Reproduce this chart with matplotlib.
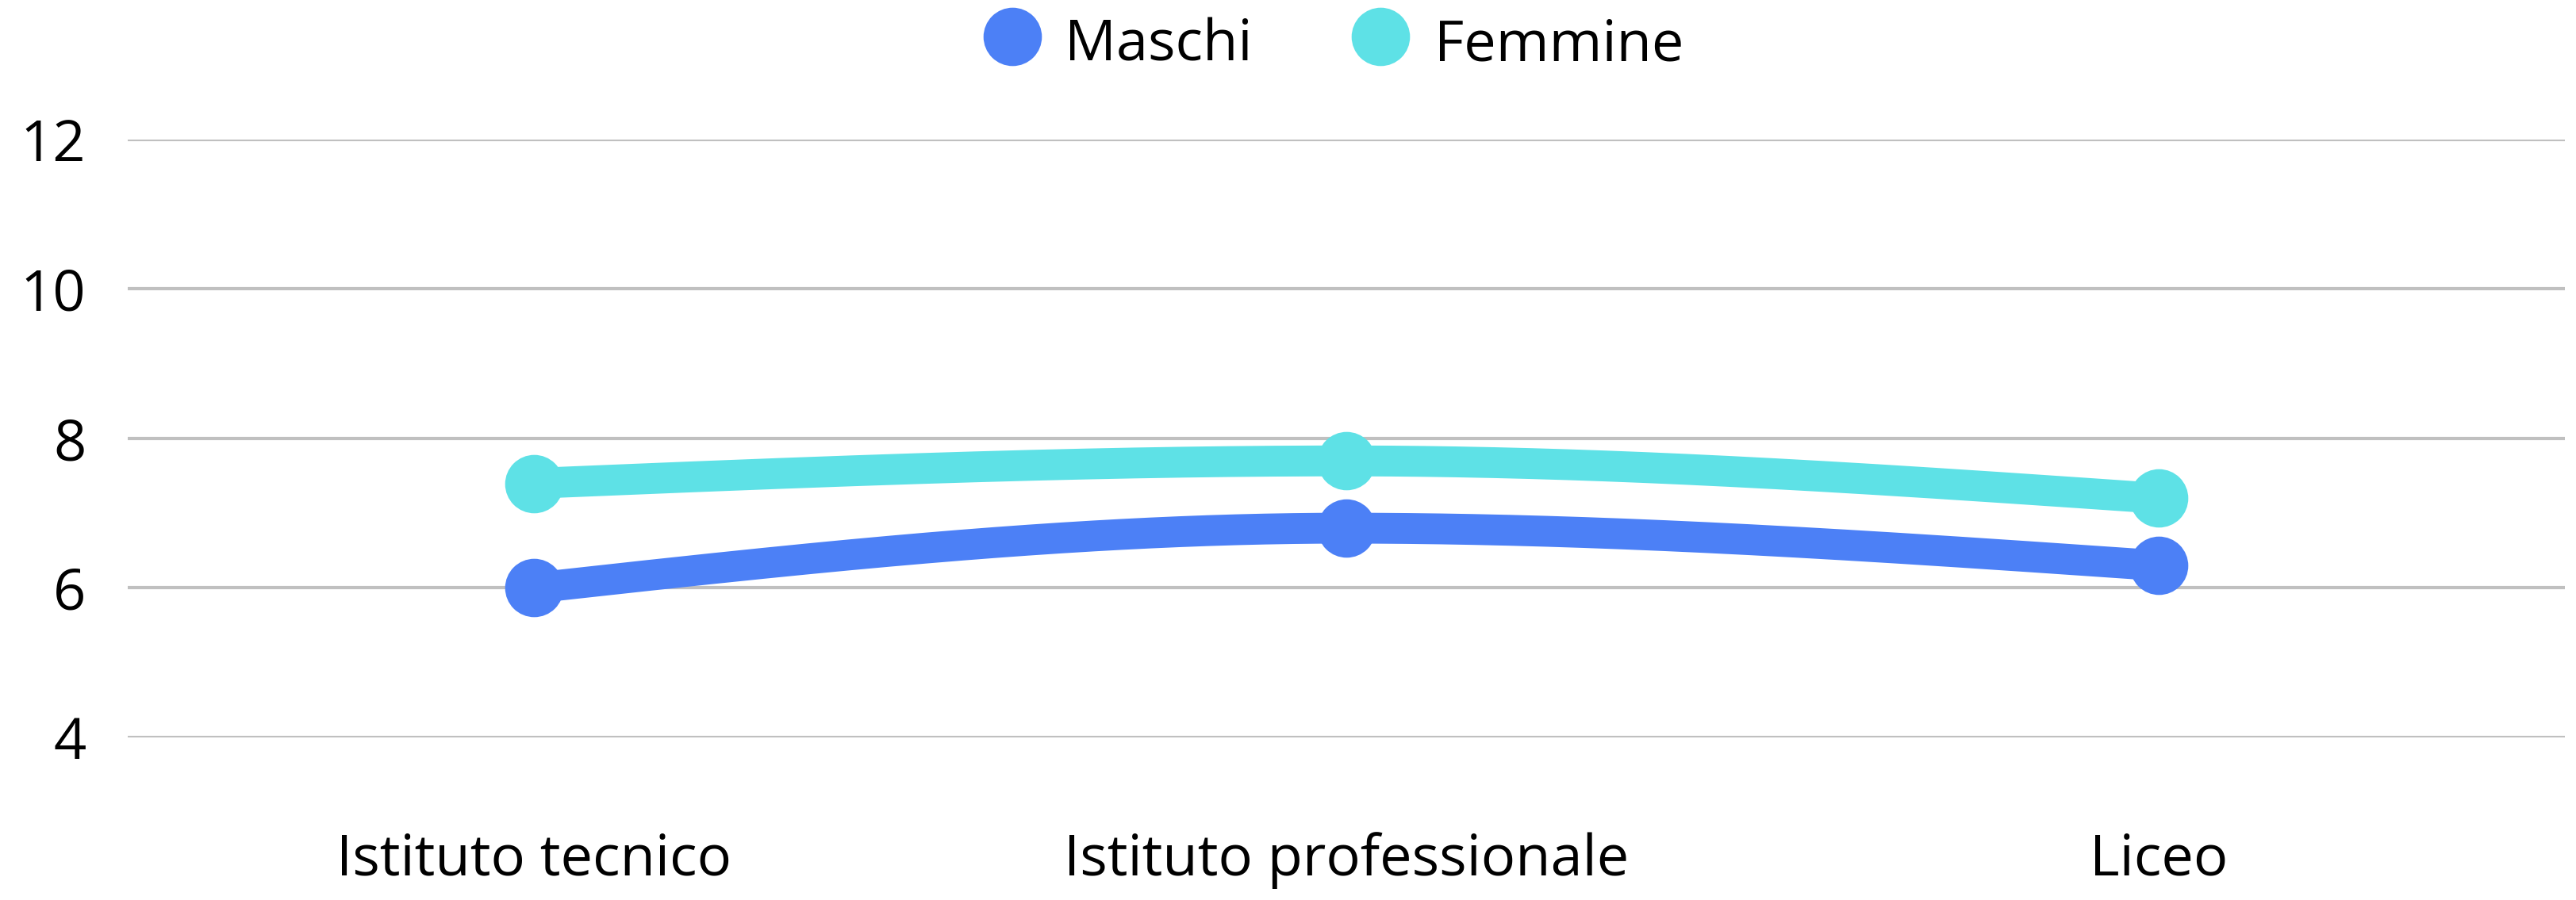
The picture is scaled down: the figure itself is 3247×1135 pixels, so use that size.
import numpy as np
import matplotlib
matplotlib.use("Agg")
import matplotlib.pyplot as plt
from matplotlib.lines import Line2D

categories = ["Istituto tecnico", "Istituto professionale", "Liceo"]
maschi = [6.0, 6.8, 6.3]
femmine = [7.4, 7.7, 7.2]
yticks = [4, 6, 8, 10, 12]
series_names = ["Maschi", "Femmine"]
colors = ["#4C80F6", "#5EE1E6"]

plt.rcParams['font.family'] = ['Open Sans', 'DejaVu Sans']


def monotone_curve(x, y, n=200):
    x = np.asarray(x, float)
    y = np.asarray(y, float)
    h = np.diff(x)
    d = np.diff(y) / h
    m = np.zeros_like(y)
    for i in range(1, len(y) - 1):
        if d[i - 1] * d[i] <= 0:
            m[i] = 0.0
        else:
            m[i] = (3 * (h[i - 1] + h[i])) / ((2 * h[i] + h[i - 1]) / d[i - 1] + (h[i] + 2 * h[i - 1]) / d[i])
    m[0] = (3 * d[0] - m[1]) / 2 if len(y) > 2 else d[0]
    m[-1] = (3 * d[-1] - m[-2]) / 2 if len(y) > 2 else d[-1]
    xs, ys = [], []
    for i in range(len(h)):
        t = np.linspace(0, 1, n)
        h00 = 2 * t**3 - 3 * t**2 + 1
        h10 = t**3 - 2 * t**2 + t
        h01 = -2 * t**3 + 3 * t**2
        h11 = t**3 - t**2
        xs.append(x[i] + t * h[i])
        ys.append(h00 * y[i] + h10 * h[i] * m[i] + h01 * y[i + 1] + h11 * h[i] * m[i + 1])
    return np.concatenate(xs), np.concatenate(ys)


fig = plt.figure(figsize=(32.47, 11.35), dpi=100)
ax = fig.add_axes([0.0496, 0.1806, 0.9461, 0.6644])

x = np.arange(len(categories))
for vals, c in zip([maschi, femmine], colors):
    cx, cy = monotone_curve(x, vals)
    ax.plot(cx, cy, color=c, lw=28, solid_capstyle='butt', zorder=3, clip_on=False)
    ax.plot(x, vals, 'o', color=c, markersize=53, markeredgewidth=0, zorder=4, clip_on=False)

ax.set_xlim(-0.5, 2.5)
ax.set_ylim(4, 12)
ax.set_yticks(yticks)
ax.set_yticklabels([str(v) for v in yticks])
ax.set_xticks(x)
ax.set_xticklabels(categories)
ax.grid(axis='y', color='#C0C0C0', lw=3, zorder=1)
ax.set_axisbelow(True)
for s in ax.spines.values():
    s.set_visible(False)
ax.tick_params(axis='both', length=0, labelsize=52, colors='#000000')
ax.tick_params(axis='x', pad=86)
ax.tick_params(axis='y', pad=38)

# legend drawn in figure coordinates
leg_marker_x = [0.3930, 0.5358]
leg_text_x = [0.4133, 0.5568]
leg_y = 0.9595
for name, c, mx, tx in zip(series_names, colors, leg_marker_x, leg_text_x):
    fig.add_artist(Line2D([mx], [leg_y], marker='o', linestyle='none', color=c,
                          markersize=53, markeredgewidth=0, transform=fig.transFigure))
    fig.text(tx, 0.9325, name, fontsize=52, va='baseline', ha='left', color='#000000')

fig.savefig("out.png", dpi=100, facecolor='white')
